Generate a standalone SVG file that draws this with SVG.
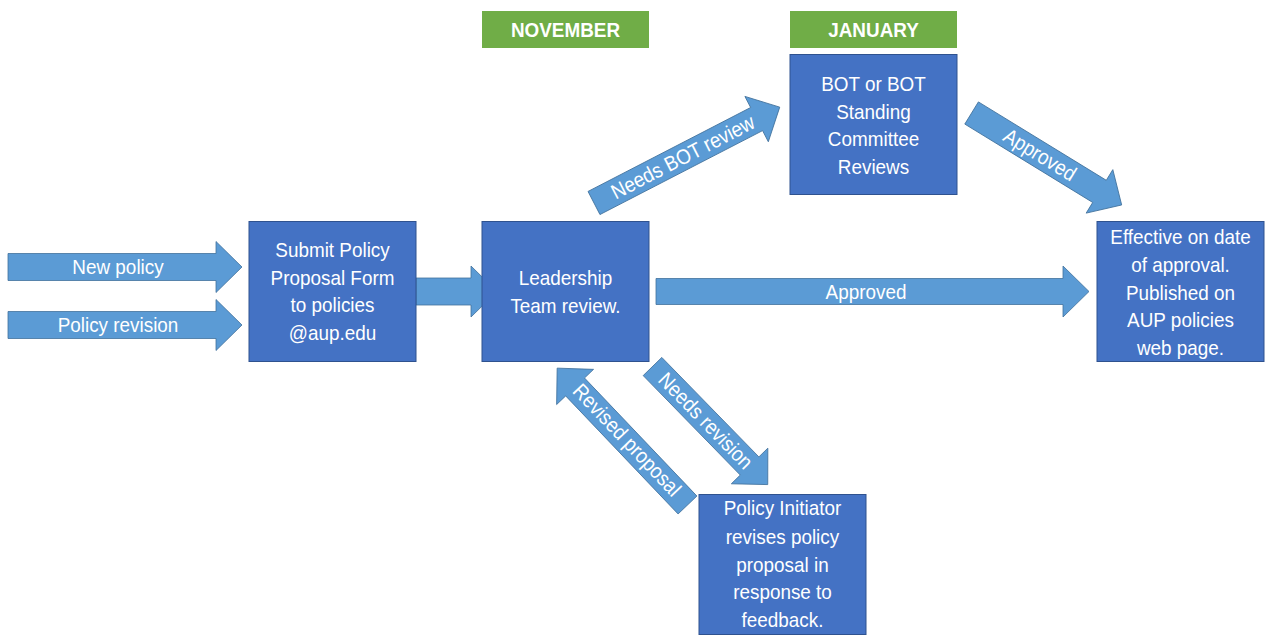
<svg xmlns="http://www.w3.org/2000/svg" width="1271" height="641" viewBox="0 0 1271 641">
<style>
.box{fill:#4472C4;stroke:#2F528F;stroke-width:1}
.hdr{fill:#70AD47}
.arr{fill:#5B9BD5;stroke:#41719C;stroke-width:0.8}
text{font-family:"Liberation Sans",Arial,sans-serif;fill:#FFFFFF;font-size:21px;text-anchor:middle}
.b{font-weight:bold}
</style>
<rect width="1271" height="641" fill="#FFFFFF"/>
<g id="connectors">
  <g id="new-policy">
    <path class="arr" d="M8,253.5 H216 V241.5 L242,267 L216,292.5 V280.5 H8 Z"/>
    <text transform="translate(118,274) scale(0.9,1)">New policy</text>
  </g>
  <g id="policy-revision">
    <path class="arr" d="M8,311.5 H216 V299.5 L242,325 L216,350.5 V338.5 H8 Z"/>
    <text transform="translate(118,332) scale(0.9,1)">Policy revision</text>
  </g>
  <g id="submit-to-leadership">
    <path class="arr" d="M416,278 H471 V266 L497,291.5 L471,317 V305 H416 Z"/>
  </g>
  <g id="approved-direct">
    <path class="arr" d="M656,278.5 H1063 V266 L1089,291.5 L1063,317 V304.5 H656 Z"/>
    <text transform="translate(866,299) scale(0.9,1)">Approved</text>
  </g>
  <g id="needs-bot" transform="translate(594,203) rotate(-27.3)">
    <path class="arr" d="M0,-13 H183 V-25.5 L209,0 L183,25.5 V13 H0 Z"/>
    <text transform="translate(100,7) scale(0.9,1)">Needs BOT review</text>
  </g>
  <g id="approved-bot" transform="translate(971.6,113) rotate(31.5)">
    <path class="arr" d="M0,-13 H150 V-25.5 L176,0 L150,25.5 V13 H0 Z"/>
    <text transform="translate(80,7) scale(0.9,1)">Approved</text>
  </g>
  <g id="needs-revision" transform="translate(652.5,366.5) rotate(45.7)">
    <path class="arr" d="M0,-13 H139 V-25.5 L165,0 L139,25.5 V13 H0 Z"/>
    <text transform="translate(76,7) scale(0.9,1)">Needs revision</text>
  </g>
  <g id="revised-proposal">
    <path class="arr" transform="translate(687.5,505) rotate(-133.6)" d="M0,-13 H163 V-25.5 L189,0 L163,25.5 V13 H0 Z"/>
    <text transform="translate(627,440) rotate(46.4) translate(0,7) scale(0.9,1)">Revised proposal</text>
  </g>
</g>
<g id="hdr-november">
  <rect class="hdr" x="482" y="11" width="167" height="37"/>
  <text class="b" transform="translate(565.5,37) scale(0.9,1)">NOVEMBER</text>
</g>
<g id="hdr-january">
  <rect class="hdr" x="790" y="11" width="167" height="37"/>
  <text class="b" transform="translate(873.5,37) scale(0.9,1)">JANUARY</text>
</g>
<g id="submit">
  <rect class="box" x="249" y="221.5" width="167" height="140"/>
  <text transform="translate(332.5,257) scale(0.9,1)">Submit Policy</text>
  <text transform="translate(332.5,285) scale(0.9,1)">Proposal Form</text>
  <text transform="translate(332.5,312) scale(0.9,1)">to policies</text>
  <text transform="translate(332.5,340) scale(0.9,1)">@aup.edu</text>
</g>
<g id="leadership">
  <rect class="box" x="482" y="221.5" width="167" height="140"/>
  <text transform="translate(565.5,285) scale(0.9,1)">Leadership</text>
  <text transform="translate(565.5,313) scale(0.9,1)">Team review.</text>
</g>
<g id="bot">
  <rect class="box" x="790" y="54.5" width="167" height="140"/>
  <text transform="translate(873.5,91) scale(0.9,1)">BOT or BOT</text>
  <text transform="translate(873.5,119) scale(0.9,1)">Standing</text>
  <text transform="translate(873.5,146) scale(0.9,1)">Committee</text>
  <text transform="translate(873.5,174) scale(0.9,1)">Reviews</text>
</g>
<g id="effective">
  <rect class="box" x="1097" y="221.5" width="167" height="140"/>
  <text transform="translate(1180.5,244) scale(0.9,1)">Effective on date</text>
  <text transform="translate(1180.5,272) scale(0.9,1)">of approval.</text>
  <text transform="translate(1180.5,300) scale(0.9,1)">Published on</text>
  <text transform="translate(1180.5,327) scale(0.9,1)">AUP policies</text>
  <text transform="translate(1180.5,355) scale(0.9,1)">web page.</text>
</g>
<g id="initiator">
  <rect class="box" x="699" y="494.5" width="167" height="140"/>
  <text transform="translate(782.5,515) scale(0.9,1)">Policy Initiator</text>
  <text transform="translate(782.5,544) scale(0.9,1)">revises policy</text>
  <text transform="translate(782.5,572) scale(0.9,1)">proposal in</text>
  <text transform="translate(782.5,599) scale(0.9,1)">response to</text>
  <text transform="translate(782.5,627) scale(0.9,1)">feedback.</text>
</g>
</svg>
